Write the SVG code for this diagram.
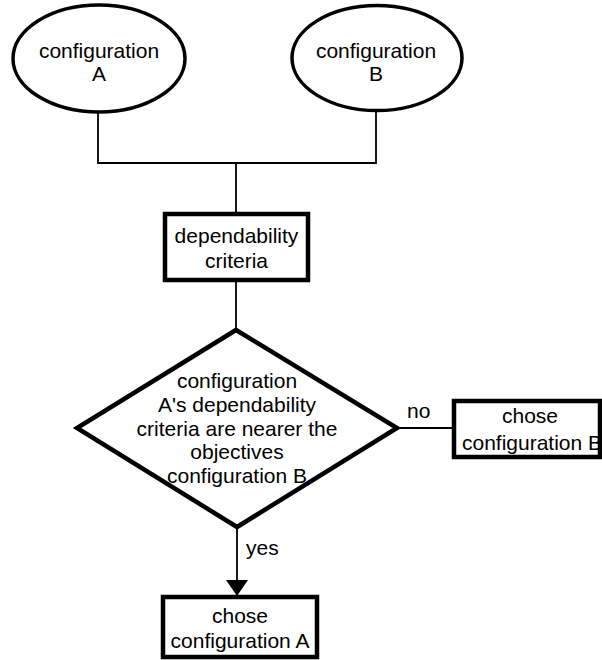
<svg xmlns="http://www.w3.org/2000/svg" width="602" height="660" viewBox="0 0 602 660">
  <defs>
    <marker id="arrow" viewBox="0 0 16 22" refX="16" refY="11" markerWidth="16" markerHeight="22" markerUnits="userSpaceOnUse" orient="auto">
      <path d="M0,0 L16,11 L0,22 Z" fill="#000"/>
    </marker>
    <style>
      text { font-family: "Liberation Sans", Arial, Helvetica, sans-serif; font-size: 21px; fill: #000; text-anchor: middle; }
      .label { text-anchor: start; }
      .oval { fill: #fff; stroke: #000; stroke-width: 3.5; }
      .box { fill: #fff; stroke: #000; stroke-width: 4.5; }
      .decision { fill: #fff; stroke: #000; stroke-width: 4.5; stroke-linejoin: miter; }
      .wire { fill: none; stroke: #000; stroke-width: 1.8; }
    </style>
  </defs>
  <rect width="602" height="660" fill="#fff"/>

  <!-- connectors -->
  <g id="connectors">
    <polyline class="wire" points="98,112 98,163 376,163 376,110"/>
    <line class="wire" x1="236" y1="163" x2="236" y2="214"/>
    <line class="wire" x1="236" y1="280" x2="236" y2="330"/>
    <line class="wire" x1="397" y1="428" x2="452" y2="428"/>
    <line class="wire" x1="237" y1="527" x2="237" y2="596" marker-end="url(#arrow)"/>
    <text class="label" x="407" y="418">no</text>
    <text class="label" x="246" y="555">yes</text>
  </g>

  <g id="config-a">
    <ellipse class="oval" cx="99" cy="58.5" rx="86" ry="53.5"/>
    <text x="99" y="58">configuration</text>
    <text x="99" y="81">A</text>
  </g>

  <g id="config-b">
    <ellipse class="oval" cx="377" cy="58" rx="85" ry="52.5"/>
    <text x="376" y="58">configuration</text>
    <text x="376" y="81">B</text>
  </g>

  <g id="criteria">
    <rect class="box" x="165" y="214" width="143" height="66"/>
    <text x="236.5" y="243">dependability</text>
    <text x="236.5" y="268">criteria</text>
  </g>

  <g id="decision">
    <polygon class="decision" points="236,330 397,428 237,527 77,428"/>
    <text x="237" y="388">configuration</text>
    <text x="237" y="412">A's dependability</text>
    <text x="237" y="436">criteria are nearer the</text>
    <text x="237" y="459">objectives</text>
    <text x="237" y="483">configuration B</text>
  </g>

  <g id="choose-b">
    <rect class="box" x="454" y="401" width="146" height="56"/>
    <text x="530" y="423">chose</text>
    <text x="532" y="450">configuration B</text>
  </g>

  <g id="choose-a">
    <rect class="box" x="163" y="597" width="154" height="60"/>
    <text x="240" y="623">chose</text>
    <text x="240" y="648">configuration A</text>
  </g>
</svg>
